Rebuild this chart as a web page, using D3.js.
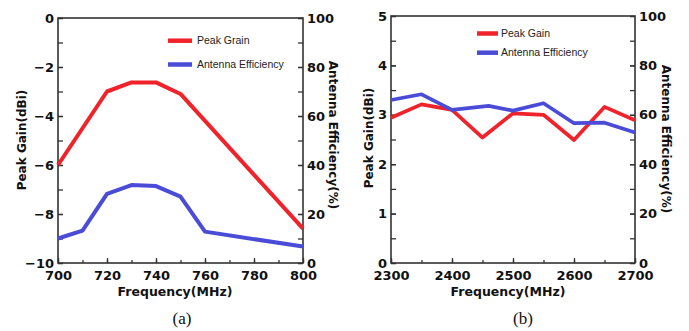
<!DOCTYPE html>
<html><head><meta charset="utf-8">
<script src="https://cdn.jsdelivr.net/npm/d3@7"></script>
<style>body{margin:0;background:#fff}svg{display:block}</style>
</head><body>
<svg id="c" width="689" height="331"></svg>
<script>
// ---- data ----
const gainFreqA = [700, 720, 730, 740, 750, 800];
const gainA = [-6.0, -3.0, -2.63, -2.63, -3.1, -8.6];
const effFreqA = [700, 710, 720, 730, 740, 750, 760, 800];
const effA = [10, 13.2, 28.2, 31.8, 31.4, 27.1, 12.8, 6.7];

const gainFreqB = [2300, 2350, 2400, 2450, 2500, 2550, 2600, 2650, 2700];
const gainB = [2.94, 3.21, 3.10, 2.54, 3.03, 3.0, 2.49, 3.16, 2.89];
const effFreqB = [2300, 2350, 2400, 2460, 2500, 2550, 2600, 2650, 2700];
const effB = [66, 68.3, 62, 63.6, 61.7, 64.7, 56.6, 56.8, 52.8];

const xTicksA = [700, 720, 740, 760, 780, 800];
const yTicksA = [-10, -8, -6, -4, -2, 0];
const xTicksB = [2300, 2400, 2500, 2600, 2700];
const yTicksB = [0, 1, 2, 3, 4, 5];
const effTicks = [0, 20, 40, 60, 80, 100];

const legendA = ["Peak Grain", "Antenna Efficiency"];
const legendB = ["Peak Gain", "Antenna Efficiency"];

const RED = "#f0232b", BLUE = "#4a4cd8";
const svg = d3.select("#c");
const TF = "'DejaVu Sans', Verdana, sans-serif";

function panel(o) {
  const x = d3.scaleLinear().domain(o.xDom).range([o.x0, o.x1]);
  const y = d3.scaleLinear().domain(o.yDom).range([o.y1, o.y0]);
  const y2 = d3.scaleLinear().domain([0, 100]).range([o.y1, o.y0]);
  const g = svg.append("g");

  function styleAxis(sel) {
    sel.select(".domain").remove();
    sel.selectAll(".tick line").attr("stroke", "#333").attr("stroke-width", 1.3);
    sel.selectAll("text").attr("font-family", TF).attr("font-weight", "bold")
      .attr("font-size", 13).attr("fill", "#111");
  }
  // minor ticks
  g.append("g").attr("transform", `translate(0,${o.y1})`)
    .call(d3.axisBottom(x).tickValues(d3.range(o.xDom[0], o.xDom[1] + 1e-9, o.xMinor)).tickSize(-3).tickSizeOuter(0).tickFormat(""))
    .call(styleAxis);
  g.append("g").attr("transform", `translate(${o.x0},0)`)
    .call(d3.axisLeft(y).tickValues(d3.range(o.yDom[0], o.yDom[1] + 1e-9, o.yMinor)).tickSize(-5).tickSizeOuter(0).tickFormat(""))
    .call(styleAxis);
  g.append("g").attr("transform", `translate(${o.x1},0)`)
    .call(d3.axisRight(y2).tickValues(d3.range(0, 101, 10)).tickSize(-5).tickSizeOuter(0).tickFormat(""))
    .call(styleAxis);
  // major ticks + labels
  g.append("g").attr("transform", `translate(0,${o.y1})`)
    .call(d3.axisBottom(x).tickValues(o.xTicks).tickSize(-5).tickSizeOuter(0).tickPadding(8).tickFormat(d3.format("d")))
    .call(styleAxis)
    .selectAll("text").attr("dy", "0.71em");
  g.append("g").attr("transform", `translate(${o.x0},0)`)
    .call(d3.axisLeft(y).tickValues(o.yTicks).tickSize(-5).tickSizeOuter(0).tickPadding(4).tickFormat(d3.format("d")))
    .call(styleAxis);
  g.append("g").attr("transform", `translate(${o.x1},0)`)
    .call(d3.axisRight(y2).tickValues(effTicks).tickSize(-5).tickSizeOuter(0).tickPadding(4).tickFormat(d3.format("d")))
    .call(styleAxis);

  // frame
  g.append("rect").attr("x", o.x0).attr("y", o.y0).attr("width", o.x1 - o.x0).attr("height", o.y1 - o.y0)
    .attr("fill", "none").attr("stroke", "#333").attr("stroke-width", 1.6);

  // lines
  const lg = d3.line().x(d => x(d[0])).y(d => y(d[1]));
  const le = d3.line().x(d => x(d[0])).y(d => y2(d[1]));
  g.append("path").datum(o.gf.map((f, i) => [f, o.gv[i]])).attr("d", lg)
    .attr("fill", "none").attr("stroke", RED).attr("stroke-width", o.lw).attr("stroke-linejoin", "round");
  g.append("path").datum(o.ef.map((f, i) => [f, o.ev[i]])).attr("d", le)
    .attr("fill", "none").attr("stroke", BLUE).attr("stroke-width", o.lw).attr("stroke-linejoin", "round");

  // legend
  [RED, BLUE].forEach((c, i) => {
    const ly = o.leg.y[i];
    g.append("line").attr("x1", o.leg.lx0).attr("x2", o.leg.lx1).attr("y1", ly).attr("y2", ly)
      .attr("stroke", c).attr("stroke-width", 4.5);
    g.append("text").attr("x", o.leg.tx).attr("y", ly).attr("dy", "0.35em")
      .attr("font-family", "'Liberation Sans', Arial, sans-serif").attr("font-size", 10.5).attr("fill", "#222")
      .text(o.leg.labels[i]);
  });

  // titles
  g.append("text").attr("x", o.xtX).attr("y", 296).attr("text-anchor", "middle")
    .attr("font-family", TF).attr("font-weight", "bold").attr("font-size", 12.5).attr("fill", "#111")
    .text("Frequency(MHz)");
  g.append("text").attr("transform", `translate(${o.ylX},${o.ylY}) rotate(-90)`).attr("text-anchor", "middle").attr("dy", "0.35em")
    .attr("font-family", TF).attr("font-weight", "bold").attr("font-size", 12).attr("fill", "#111")
    .text("Peak Gain(dBi)");
  g.append("text").attr("transform", `translate(${o.yrX},${o.yrY}) rotate(90)`).attr("text-anchor", "middle").attr("dy", "0.35em")
    .attr("font-family", TF).attr("font-weight", "bold").attr("font-size", 12).attr("fill", "#111")
    .text("Antenna Efficiency(%)");
  g.append("text").attr("x", o.capX).attr("y", 324).attr("text-anchor", "middle")
    .attr("font-family", "'Liberation Serif', 'Times New Roman', serif").attr("font-size", 17).attr("fill", "#111")
    .text(o.cap);
}

panel({
  x0: 58, x1: 303, y0: 18, y1: 263,
  xDom: [700, 800], yDom: [-10, 0], xMinor: 10, yMinor: 1,
  xTicks: xTicksA, yTicks: yTicksA,
  gf: gainFreqA, gv: gainA, ef: effFreqA, ev: effA, lw: 4,
  leg: { y: [40.7, 64.5], lx0: 168, lx1: 192, tx: 197, labels: legendA },
  xtX: 175, ylX: 22, ylY: 140, yrX: 333, yrY: 135, capX: 182, cap: "(a)"
});
panel({
  x0: 391, x1: 635, y0: 16, y1: 263,
  xDom: [2300, 2700], yDom: [0, 5], xMinor: 50, yMinor: 0.5,
  xTicks: xTicksB, yTicks: yTicksB,
  gf: gainFreqB, gv: gainB, ef: effFreqB, ev: effB, lw: 3.7,
  leg: { y: [33.5, 52.7], lx0: 477, lx1: 498, tx: 501, labels: legendB },
  xtX: 508, ylX: 369, ylY: 138, yrX: 666, yrY: 139, capX: 523, cap: "(b)"
});
</script>
</body></html>
